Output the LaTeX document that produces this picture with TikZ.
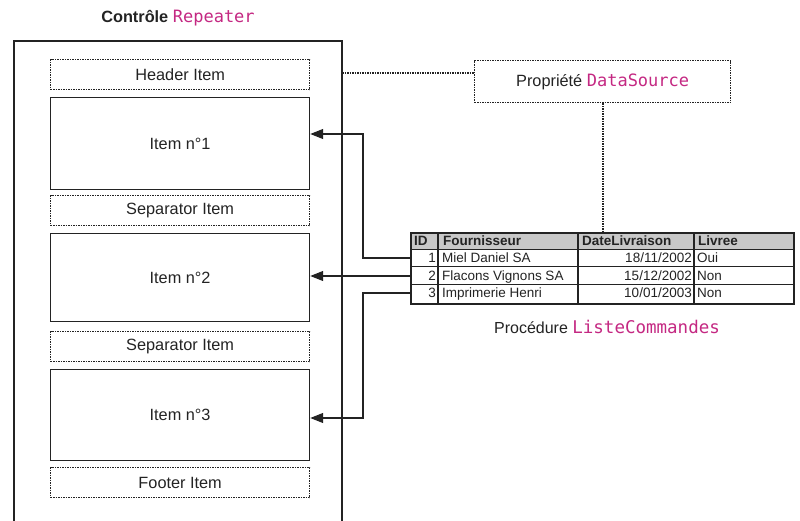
\documentclass[tikz,border=0pt]{standalone}
\usepackage{fontspec}
\setmainfont{Liberation Sans}
\setmonofont{DejaVu Sans Mono}
\usetikzlibrary{arrows.meta}
\definecolor{codemag}{RGB}{196,40,130}
\definecolor{hdrgray}{RGB}{200,200,200}
\definecolor{ink}{RGB}{35,35,35}
\begin{document}
\begin{tikzpicture}[x=1pt,y=-1pt, color=ink,
  itembox/.style={draw, line width=1.2pt, anchor=north west, inner sep=0pt,
    font=\fontsize{16.3}{19}\selectfont},
  dotbox/.style={draw, line width=1.3pt, dash pattern=on 1.6pt off 0.9pt, anchor=north west, inner sep=0pt,
    font=\fontsize{16.3}{19}\selectfont},
  dotline/.style={line width=1.3pt, dash pattern=on 1.6pt off 0.9pt},
  link/.style={line width=1.2pt, -{Triangle[length=13pt,width=10pt]}},
  cell/.style={font=\fontsize{13.5}{15}\selectfont, inner sep=0pt, anchor=base west},
  cellr/.style={font=\fontsize{13.5}{15}\selectfont, inner sep=0pt, anchor=base east},
  hcell/.style={font=\bfseries\fontsize{13.5}{15}\selectfont, inner sep=0pt, anchor=base west}
]
\useasboundingbox (0,0) rectangle (800,521);
% title
\node[font=\bfseries\fontsize{16.3}{19}\selectfont, inner sep=0pt] (title) at (178,18)
  {Contrôle \textcolor{codemag}{\mdseries\fontsize{17}{19}\ttfamily Repeater}};
% outer box
\draw[line width=1.2pt] (14,521) -- (14,41) -- (342,41) -- (342,521);
\coordinate (outerR) at (342,73);
% items
\node[dotbox, minimum width=259pt, minimum height=30pt] (header) at (50,59) {Header Item};
\node[itembox, minimum width=259pt, minimum height=92pt] (item1) at (50,97) {Item n°1};
\node[dotbox, minimum width=259pt, minimum height=30pt] (sep1) at (50,195) {Separator Item};
\node[itembox, minimum width=259pt, minimum height=88pt] (item2) at (50,233) {Item n°2};
\node[dotbox, minimum width=259pt, minimum height=30pt] (sep2) at (50,331) {Separator Item};
\node[itembox, minimum width=259pt, minimum height=91pt] (item3) at (50,369) {Item n°3};
\node[dotbox, minimum width=259pt, minimum height=30pt] (footer) at (50,467) {Footer Item};
% DataSource
\node[dotbox, minimum width=256pt, minimum height=42pt] (ds) at (474,60)
  {Propriété \textcolor{codemag}{\fontsize{17}{19}\ttfamily DataSource}};
% table
\fill[hdrgray] (411,233) rectangle (794,250);
\draw[line width=1.2pt] (411,233) rectangle (794,304);
\draw[line width=1pt] (411,250) -- (794,250) (411,267) -- (794,267) (411,284) -- (794,284);
\draw[line width=1.2pt] (438,233) -- (438,304) (578,233) -- (578,304) (694,233) -- (694,304);
\coordinate (tabletop) at (603,233);
\coordinate (row1) at (411,258);
\coordinate (row2) at (411,276);
\coordinate (row3) at (411,293);
\node[hcell] (hID) at (414,246) {ID};
\node[hcell] (hF) at (443,246) {Fournisseur};
\node[hcell] (hD) at (582,246) {DateLivraison};
\node[hcell] (hL) at (698,246) {Livree};
\node[cellr] (c11) at (436,263) {1};
\node[cell] (c12) at (442,263) {Miel Daniel SA};
\node[cellr] (c13) at (692,263) {18/11/2002};
\node[cell] (c14) at (697,263) {Oui};
\node[cellr] (c21) at (436,280) {2};
\node[cell] (c22) at (442,280) {Flacons Vignons SA};
\node[cellr] (c23) at (692,280) {15/12/2002};
\node[cell] (c24) at (697,280) {Non};
\node[cellr] (c31) at (436,298) {3};
\node[cell] (c32) at (442,298) {Imprimerie Henri};
\node[cellr] (c33) at (692,298) {10/01/2003};
\node[cell] (c34) at (697,298) {Non};
\node[font=\fontsize{16}{19}\selectfont, inner sep=0pt] (proc) at (607,327)
  {Procédure \textcolor{codemag}{\fontsize{17.5}{19}\ttfamily ListeCommandes}};
% connectors
\draw[dotline] (outerR) -- (ds.west |- outerR);
\draw[dotline] (ds.south -| tabletop) -- (tabletop);
\draw[link] (row1) -- (363,258) -- (363,134) -- (item1.east |- 0,134);
\draw[link] (row2) -- (item2.east |- row2);
\draw[link] (row3) -- (363,293) -- (363,418) -- (item3.east |- 0,418);
\end{tikzpicture}
\end{document}
